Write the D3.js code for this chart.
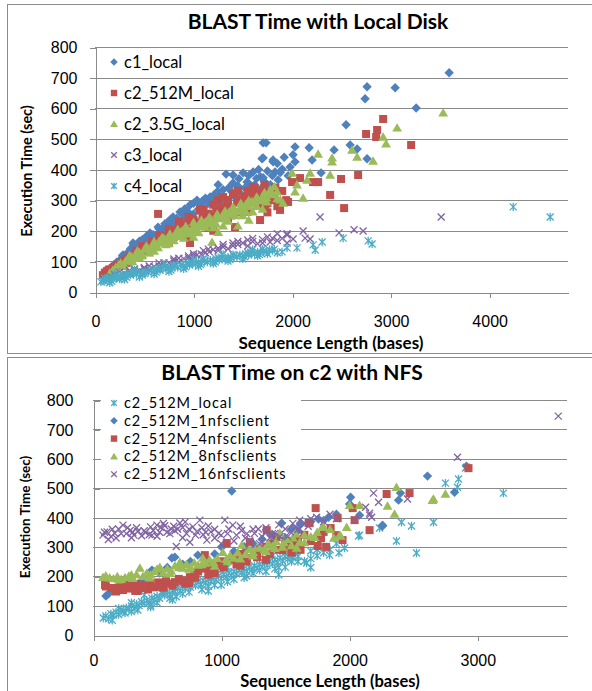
<!DOCTYPE html>
<html>
<head>
<meta charset="utf-8">
<script src="https://cdn.jsdelivr.net/npm/d3@7"></script>
<style>
  body { margin: 0; background: #fff; }
  svg { display: block; font-family: Lato, "Open Sans", sans-serif; }
  .grid line { stroke: #8a8a8a; stroke-width: 1; shape-rendering: crispEdges; }
  .axis path, .axis line { stroke: #8a8a8a; shape-rendering: crispEdges; }
  .axis text { fill: #000; font-size: 16px; }
</style>
</head>
<body>
<div class="container"></div>
<script>
const WIDTH = 592;
const HEIGHT = 691;

// ---- top chart: BLAST Time with Local Disk ----
var topTitle = 'BLAST Time with Local Disk';
var topNames = ['c1_local', 'c2_512M_local', 'c2_3.5G_local', 'c3_local', 'c4_local'];
var topXTicks = [0, 1000, 2000, 3000, 4000];
var yTicks = [0, 100, 200, 300, 400, 500, 600, 700, 800];

var c1Local = [[100,60],[130,72],[160,79],[190,88],[220,97],[250,104],[280,118],[300,111],[330,128],[360,141],
  [390,156],[420,149],[450,166],[480,171],[520,181],[558,193],[590,187],[640,212],[650,206],[680,205],[710,223],
  [740,229],[770,238],[792,245],[830,241],[863,261],[880,256],[910,271],[940,263],[964,284],[1000,290],[1035,300],
  [1060,286],[1090,297],[1120,306],[1168,310],[1180,302],[1210,318],[1239,327],[1270,311],[1300,334],[1330,385],
  [1360,341],[1401,382],[1401,356],[1450,346],[1503,389],[1543,359],[1570,351],[1604,392],[1640,371],[1680,376],
  [1706,373],[1695,435],[1706,487],[1736,487],[1706,438],[1807,425],[1807,431],[1827,392],[1858,366],[1900,401],
  [1980,408],[2010,448],[2030,474],[2030,425],[2173,471],[2203,431],[2294,389],[2426,464],[2548,546],[2589,480],
  [2660,467],[2741,631],[2761,670],[2761,435],[3046,667],[3259,601],[3594,716],[386,160],[284,121],[122,72],
  [1250,350],[1280,295],[1350,300],[1380,330],[1420,310],[1460,370],[1480,320],[1520,340],[1560,380],[1590,330],
  [1620,350],[1660,400],[1690,340],[1720,360],[1750,395],[1780,350],[1800,380],[1850,420],[1880,390],[1920,440],
  [1960,380],[1000,255],[1050,270],[900,240],[850,225],[700,195],[600,175],[500,165],[400,135],[300,100],[200,80],
  [1100,275],[1150,290],[1200,295],[1230,280],[750,215],[950,250],[550,170],[450,150],[350,125],[650,190],[800,222]];

var c2Local512 = [[80,55],[100,63],[120,68],[140,73],[170,70],[200,83],[230,89],[260,96],[290,101],[320,108],
  [350,116],[380,121],[410,118],[440,131],[470,137],[500,141],[530,151],[560,147],[600,161],[640,255],[660,171],
  [700,181],[730,177],[760,191],[790,201],[820,194],[850,211],[880,204],[910,221],[940,214],[970,226],[964,160],
  [1000,236],[1030,228],[1066,268],[1090,246],[1120,240],[1150,256],[1180,249],[1200,200],[1230,266],[1260,259],
  [1290,276],[1320,268],[1350,286],[1380,271],[1421,212],[1440,291],[1470,301],[1500,284],[1530,311],[1560,304],
  [1604,343],[1620,299],[1650,321],[1675,235],[1700,331],[1730,279],[1760,326],[1800,301],[1830,341],[1878,268],
  [1959,294],[2000,359],[2081,372],[2213,359],[2264,359],[2386,317],[2497,369],[2528,274],[2670,382],[2751,516],
  [2853,506],[2863,529],[2924,565],[3208,480],[150,58],[350,100],[550,130],[750,160],[950,185],[1150,210],[1350,240],
  [1550,262],[1750,290],[1100,270],[1200,285],[1250,300],[1300,310],[1350,300],[1400,320],[1450,330],[1480,260],
  [1520,280],[1550,330],[1580,290],[1620,340],[1660,310],[1700,280],[1720,350],[1780,300],[1820,320],[1850,280],
  [1000,210],[900,195],[800,180],[950,245],[850,230],[750,205],[650,185],[580,165],[480,150],[420,135],[380,110],
  [320,95],[250,85],[180,78],[1150,230],[1380,250],[1600,320],[1750,260],[1900,330],[1940,300]];

var c2Local35 = [[150,62],[180,71],[210,80],[240,89],[260,95],[290,91],[310,101],[340,108],[370,116],[400,110],
  [420,126],[450,130],[480,121],[500,139],[530,146],[560,140],[590,156],[620,150],[650,166],[680,160],[700,176],
  [730,169],[760,183],[790,178],[820,191],[850,184],[880,199],[910,192],[940,206],[970,199],[1000,213],[1030,205],
  [1060,221],[1090,214],[1120,229],[1150,222],[1180,236],[1210,229],[1240,246],[1270,240],[1300,253],[1330,247],
  [1360,261],[1390,255],[1420,269],[1450,262],[1480,279],[1500,270],[1530,286],[1560,280],[1590,296],[1620,289],
  [1650,306],[1680,299],[1710,316],[1740,309],[1770,326],[1800,318],[1848,327],[1880,301],[1909,291],[2000,389],
  [2030,327],[2050,350],[2112,307],[2152,366],[2183,389],[2264,451],[2386,382],[2406,425],[2406,438],[2609,464],
  [2660,441],[2822,428],[2924,506],[2954,484],[3066,536],[3533,585],[300,84],[450,112],[600,134],[750,158],
  [900,176],[1050,194],[1188,163],[1200,211],[1300,216],[1350,232],[1450,216],[1500,250],[1600,262],[1700,271],
  [350,120],[430,135],[520,150],[600,165],[680,178],[760,190],[840,205],[920,215],[1000,228],[1080,235],[1160,245],
  [1240,255],[1320,265],[1400,278],[1480,290],[1560,300],[1640,310],[1720,325],[1780,335],[1820,345],[380,100],
  [470,118],[550,128],[640,145],[720,155],[800,168],[880,182],[960,190],[1040,198],[1120,212],[1230,222],[1330,240],
  [1420,250],[1530,262],[1640,280],[1740,295],[1850,305],[1250,195],[1560,235],[1000,180]];

var c3Local = [[80,40],[120,46],[160,50],[200,56],[250,52],[300,61],[350,62],[400,69],[450,70],[500,76],[550,72],
  [600,83],[650,85],[700,89],[750,95],[800,101],[850,98],[900,109],[950,112],[1000,118],[1035,121],[1080,123],
  [1120,128],[1160,131],[1200,138],[1250,143],[1300,147],[1350,141],[1400,151],[1450,155],[1500,160],[1550,150],
  [1600,165],[1650,158],[1700,171],[1777,163],[1800,176],[1850,168],[1949,186],[1949,190],[1949,160],[2010,173],
  [2112,199],[2132,176],[2183,173],[2284,245],[2477,193],[2629,203],[2721,199],[3513,245],[250,65],[400,75],
  [550,85],[700,95],[850,110],[1000,125],[1150,140],[1300,155],[1450,165],[1600,175],[1700,160],[1750,180],
  [1550,170],[1400,160],[1250,135],[1100,135],[950,118],[800,108],[650,95],[500,80],[350,70],[1850,190],[1900,175]];

var c4Local = [[60,33],[80,38],[100,35],[120,42],[140,40],[160,46],[180,43],[200,49],[220,46],[240,51],[260,48],
  [280,54],[300,52],[330,57],[360,55],[390,61],[420,58],[450,64],[480,61],[510,67],[540,64],[570,71],[600,68],
  [630,74],[660,71],[690,78],[720,75],[750,81],[780,78],[810,84],[840,81],[870,88],[900,85],[930,91],[960,88],
  [990,94],[1020,91],[1050,98],[1080,95],[1110,101],[1140,98],[1170,104],[1200,101],[1230,108],[1260,105],
  [1290,111],[1320,108],[1350,114],[1380,111],[1410,118],[1440,115],[1470,121],[1500,118],[1530,124],[1560,121],
  [1590,128],[1620,125],[1650,131],[1680,128],[1710,134],[1740,131],[1770,138],[1800,135],[1898,131],[1949,144],
  [2050,144],[2213,154],[2234,137],[2305,163],[2518,176],[2772,167],[2812,157],[4244,278],[4619,245],
  [150,30],[300,41],[450,49],[600,59],[750,67],[900,76],[1050,84],[1200,93],[1350,101],[1500,108],[1650,118],
  [200,60],[400,72],[700,91],[1000,106],[1300,123],[1600,139],[100,45],[250,42],[350,60],[500,60],[650,78],
  [800,88],[950,95],[1100,108],[1250,112],[1400,122],[1550,128],[1700,140],[1750,125],[170,35],[320,48],[480,55],
  [620,65],[770,72],[920,82],[1070,90],[1220,98],[1370,106],[1520,115],[1670,122],[1820,140],[1850,128]];

// ---- bottom chart: BLAST Time on c2 with NFS ----
var botTitle = 'BLAST Time on c2 with NFS';
var botNames = ['c2_512M_local', 'c2_512M_1nfsclient', 'c2_512M_4nfsclients', 'c2_512M_8nfsclients', 'c2_512M_16nfsclients'];
var botXTicks = [0, 1000, 2000, 3000];

var nfsLocal = [[80,58],[100,65],[120,55],[140,72],[160,68],[180,78],[200,70],[220,86],[240,80],[260,92],[280,88],
  [300,99],[320,90],[340,106],[360,100],[380,113],[400,108],[420,118],[440,111],[460,126],[480,120],[500,132],
  [520,125],[540,141],[560,135],[580,146],[600,138],[620,152],[640,148],[660,159],[680,150],[700,166],[720,158],
  [740,171],[760,162],[780,176],[800,168],[820,181],[840,172],[860,186],[880,178],[900,191],[920,182],[940,196],
  [960,188],[980,201],[1000,192],[1020,206],[1040,198],[1060,211],[1080,202],[1100,216],[1120,208],[1140,221],
  [1160,212],[1180,226],[1200,218],[1220,231],[1240,222],[1260,236],[1280,228],[1300,241],[1320,232],[1340,246],
  [1360,238],[1380,251],[1400,242],[1420,256],[1440,248],[1460,263],[1480,252],[1500,268],[1520,258],[1540,273],
  [1560,262],[1580,279],[1600,268],[1668,245],[1700,286],[1750,291],[1800,301],[1847,272],[1900,311],[1964,296],
  [2073,337],[2081,340],[2237,364],[2369,320],[2408,384],[2486,371],[2525,279],[2658,384],[2751,517],[2845,503],
  [2853,531],[2907,568],[2915,571],[3203,483],[150,50],[300,80],[450,101],[600,125],[750,146],[900,166],[1050,181],
  [1200,201],[1350,216],[1500,231],[1450,205],[1650,251],[400,136],[700,181],[1000,221],[1300,261],[1600,291],[1750,270],
  [200,90],[300,110],[350,85],[500,110],[550,150],[650,130],[700,140],[800,190],[850,155],[950,170],[1000,170],
  [1050,230],[1100,190],[1150,240],[1250,210],[1300,220],[1400,270],[1450,230],[1550,250],[1600,250],[1700,260],
  [1800,280],[1850,290],[1920,280],[1700,230],[1550,290],[250,75],[450,95],[620,120],[900,150],[1180,195],[1420,225]];

var nfs1 = [[101,133],[120,140],[150,151],[200,160],[260,171],[320,175],[380,186],[460,221],[520,211],[580,230],
  [616,262],[639,265],[700,241],[760,250],[818,272],[880,261],[950,276],[1005,299],[1083,490],[1100,285],[1180,301],
  [1250,311],[1320,326],[1400,341],[1473,381],[1550,361],[1620,376],[1700,386],[1760,395],[1839,401],[1900,411],
  [2003,446],[2011,469],[2081,408],[2260,371],[2260,374],[2385,459],[2400,483],[2611,541],[2822,486],[2915,575],
  [250,180],[400,190],[900,250],[1200,290],[1500,330],[1600,355],[1800,390]];

var nfs4 = [[94,170],[101,165],[210,170],[234,153],[260,166],[290,158],[312,163],[340,173],[370,160],[400,168],
  [421,170],[450,176],[480,162],[510,179],[538,170],[570,183],[600,175],[639,180],[670,191],[700,185],[756,197],
  [790,206],[820,216],[850,226],[873,272],[889,231],[920,241],[960,235],[1000,251],[1044,313],[1070,256],[1100,266],
  [1140,260],[1170,276],[1200,262],[1224,316],[1260,281],[1300,291],[1330,301],[1356,357],[1400,311],[1434,333],
  [1481,289],[1520,301],[1560,321],[1600,326],[1650,341],[1683,381],[1691,381],[1738,432],[1754,303],[1800,351],
  [1855,364],[1910,398],[1948,323],[2027,432],[2042,391],[2159,357],[2292,480],[2471,483],[2931,568],
  [150,160],[350,150],[550,161],[750,176],[950,211],[1150,236],[1350,256],[1550,281],[180,148],[280,180],[330,150],
  [430,155],[520,165],[620,168],[720,175],[800,195],[900,205],[1020,230],[1120,240],[1200,250],[1280,265],[1380,275],
  [1450,290],[1500,310],[1580,300],[1620,290],[1700,320],[1780,330],[1820,300],[1900,340]];

var nfs8 = [[78,197],[100,202],[130,195],[160,192],[190,199],[220,190],[250,196],[280,201],[310,193],[340,206],
  [366,228],[390,200],[420,211],[450,205],[480,216],[522,231],[550,212],[580,226],[610,218],[640,236],[678,248],
  [700,228],[730,241],[760,232],[790,246],[820,238],[857,262],[880,245],[910,256],[940,248],[970,261],[1013,282],
  [1040,258],[1070,271],[1100,262],[1130,281],[1161,306],[1190,275],[1220,291],[1250,282],[1278,296],[1310,301],
  [1340,292],[1370,311],[1400,302],[1430,319],[1458,347],[1490,315],[1520,326],[1560,331],[1590,296],[1613,316],
  [1650,341],[1700,335],[1730,333],[1793,371],[1800,367],[1925,340],[1933,337],[1980,367],[2003,442],[2081,442],
  [2299,439],[2354,412],[2369,503],[2650,459],[2658,463],[2751,480],[200,188],[300,205],[440,195],[500,225],
  [600,210],[670,230],[750,225],[850,240],[950,235],[1050,250],[1150,260],[1250,270],[1350,285],[1420,295],
  [1480,300],[1550,305],[1650,315],[1750,350],[1850,360],[1880,330],[1580,345]];

var nfs16 = [[78,340],[110,351],[140,335],[170,346],[200,361],[234,374],[260,345],[290,356],[320,340],[350,353],
  [380,338],[410,349],[440,342],[470,356],[499,374],[530,366],[560,372],[577,350],[610,361],[640,355],[678,381],
  [700,366],[730,345],[756,316],[780,368],[810,352],[834,391],[860,341],[889,323],[920,351],[950,330],[980,346],
  [1029,391],[1060,361],[1091,374],[1120,340],[1160,356],[1190,330],[1224,323],[1260,346],[1290,361],[1320,335],
  [1350,349],[1380,330],[1420,346],[1460,335],[1500,361],[1540,351],[1580,366],[1613,391],[1650,381],[1700,396],
  [1746,401],[1800,386],[1850,411],[1900,396],[2042,391],[2128,435],[2159,408],[2159,415],[2175,401],[2190,483],
  [2229,452],[2455,463],[2845,605],[3632,745],[120,325],[300,331],[450,368],[500,336],[650,301],[700,331],
  [900,371],[1000,311],[1100,320],[1300,311],[90,350],[150,360],[180,330],[220,345],[270,365],[310,350],[340,365],
  [400,355],[460,340],[520,350],[550,380],[600,345],[630,370],[660,360],[720,385],[750,360],[800,340],[850,365],
  [880,350],[950,360],[1000,340],[1050,345],[1150,370],[1200,345],[1250,360],[1350,365],[1400,345],[1450,375],
  [1520,335],[1560,380],[1600,360],[1680,370]];

// ---- marker shapes ----
var BLUE = '#4f81bd', RED = '#c0504d', GREEN = '#9bbb59', PURPLE = '#8064a2', CYAN = '#4bacc6';

var markerPath = function (kind, s) {
    if (kind === 'diamond') return 'M0,' + (-s) + 'L' + s + ',0L0,' + s + 'L' + (-s) + ',0Z';
    if (kind === 'square') return 'M' + (-s) + ',' + (-s) + 'h' + (2 * s) + 'v' + (2 * s) + 'h' + (-2 * s) + 'Z';
    if (kind === 'triangle') return 'M0,' + (-s) + 'L' + (s * 1.05) + ',' + (s * 0.8) + 'L' + (-s * 1.05) + ',' + (s * 0.8) + 'Z';
    if (kind === 'x') return 'M' + (-s) + ',' + (-s) + 'L' + s + ',' + s + 'M' + (-s) + ',' + s + 'L' + s + ',' + (-s);
    // star: x with a vertical bar
    return 'M' + (-s) + ',' + (-s) + 'L' + s + ',' + s + 'M' + (-s) + ',' + s + 'L' + s + ',' + (-s) +
        'M0,' + (-s * 1.2) + 'L0,' + (s * 1.2);
};

var drawMarker = function (sel, kind, color, s) {
    var stroked = kind === 'x' || kind === 'star';
    sel.append('path')
        .attr('d', markerPath(kind, s))
        .attr('fill', stroked ? 'none' : color)
        .attr('stroke', stroked ? color : 'none')
        .attr('stroke-width', stroked ? 1.3 : 0);
};

var markerSize = {diamond: 4.7, square: 4, triangle: 4.7, x: 3.5, star: 3.5};

var _svg;

var createSvg = function () {
    _svg = d3.select('.container').append('svg').attr('width', WIDTH).attr('height', HEIGHT);
};

var drawChart = function (c) {
    var g = _svg.append('g');

    g.append('rect')
        .attr('x', c.frame[0] + 0.5).attr('y', c.frame[1] + 0.5)
        .attr('width', c.frame[2]).attr('height', c.frame[3])
        .attr('fill', '#fff').attr('stroke', '#8c8c8c');

    var x = d3.scaleLinear().domain(c.xDomain).range([c.left, c.right]);
    var y = d3.scaleLinear().domain([0, 800]).range([c.bottom, c.top]);

    g.append('g').attr('class', 'grid')
        .selectAll('line')
        .data(yTicks.slice(1))
        .enter().append('line')
        .attr('x1', c.left).attr('x2', c.right)
        .attr('y1', function (d) { return Math.round(y(d)) + 0.5; })
        .attr('y2', function (d) { return Math.round(y(d)) + 0.5; });

    var yAxis = d3.axisLeft(y).tickValues(yTicks).tickSize(c.yTickSize).tickSizeOuter(0).tickPadding(c.yPad);
    var yg = g.append('g').attr('class', 'axis')
        .attr('transform', 'translate(' + (c.left + 0.5) + ',0.5)')
        .call(yAxis);
    if (c.crossTicks) yg.selectAll('.tick line').attr('x2', 6);

    var xAxis = d3.axisBottom(x).tickValues(c.xTicks).tickFormat(d3.format('d'))
        .tickSize(5).tickSizeOuter(0).tickPadding(c.xPad);
    g.append('g').attr('class', 'axis')
        .attr('transform', 'translate(0.5,' + (c.bottom + 0.5) + ')')
        .call(xAxis);

    g.append('text')
        .attr('x', c.titleX).attr('y', c.titleY)
        .attr('text-anchor', 'middle').attr('font-weight', 'bold').attr('font-size', 21)
        .text(c.title);

    g.append('text')
        .attr('x', c.xTitleX).attr('y', c.xTitleY)
        .attr('text-anchor', 'middle').attr('font-weight', 'bold').attr('font-size', c.xTitleSize)
        .text('Sequence Length (bases)');

    g.append('text')
        .attr('transform', 'translate(' + c.yTitleX + ',' + c.yTitleY + ') rotate(-90)')
        .attr('text-anchor', 'middle').attr('font-weight', 'bold').attr('font-size', c.yTitleSize)
        .text('Execution Time (sec)');

    // legend
    var lg = g.append('g');
    if (c.legendBox) {
        lg.append('rect')
            .attr('x', c.legendBox[0]).attr('y', c.legendBox[1])
            .attr('width', c.legendBox[2]).attr('height', c.legendBox[3])
            .attr('fill', '#fff');
    }
    c.series.forEach(function (s, i) {
        var row = lg.append('g')
            .attr('transform', 'translate(' + c.legendX + ',' + (c.legendY + i * c.legendStep) + ')');
        drawMarker(row, s.kind, s.color, markerSize[s.kind] * 0.8);
        row.append('text')
            .attr('x', 10).attr('dy', '0.35em')
            .attr('font-size', c.legendFont)
            .attr('letter-spacing', c.legendSpacing)
            .text(s.name);
    });

    // points
    c.series.forEach(function (s) {
        g.append('g')
            .selectAll('g')
            .data(s.values)
            .enter().append('g')
            .attr('transform', function (d) { return 'translate(' + x(d[0]) + ',' + y(d[1]) + ')'; })
            .each(function () { drawMarker(d3.select(this), s.kind, s.color, markerSize[s.kind]); });
    });
};

window.onload = function () {
    createSvg();
    drawChart({
        frame: [7, 4, 600, 349],
        left: 95, right: 568, top: 47, bottom: 292,
        xDomain: [0, 4800], xTicks: topXTicks,
        yTickSize: 6, yPad: 12, xPad: 18, crossTicks: false,
        title: topTitle, titleX: 318, titleY: 29,
        xTitleX: 331, xTitleY: 349, xTitleSize: 17,
        yTitleX: 32, yTitleY: 171, yTitleSize: 14.5,
        legendX: 114, legendY: 62, legendStep: 31, legendBox: null,
        legendFont: 16.5, legendSpacing: 0,
        series: [
            {name: topNames[0], values: c1Local, kind: 'diamond', color: BLUE},
            {name: topNames[1], values: c2Local512, kind: 'square', color: RED},
            {name: topNames[2], values: c2Local35, kind: 'triangle', color: GREEN},
            {name: topNames[3], values: c3Local, kind: 'x', color: PURPLE},
            {name: topNames[4], values: c4Local, kind: 'star', color: CYAN}
        ]
    });
    drawChart({
        frame: [7, 357, 600, 360],
        left: 93, right: 567, top: 400, bottom: 635,
        xDomain: [0, 3700], xTicks: botXTicks,
        yTickSize: 6, yPad: 14, xPad: 14, crossTicks: true,
        title: botTitle, titleX: 292, titleY: 380,
        xTitleX: 330, xTitleY: 687, xTitleSize: 16.5,
        yTitleX: 30, yTitleY: 517, yTitleSize: 13.5,
        legendX: 114, legendY: 403, legendStep: 17.8, legendBox: [101, 393, 200, 92],
        legendFont: 14.5, legendSpacing: 0.9,
        series: [
            {name: botNames[0], values: nfsLocal, kind: 'star', color: CYAN},
            {name: botNames[1], values: nfs1, kind: 'diamond', color: BLUE},
            {name: botNames[2], values: nfs4, kind: 'square', color: RED},
            {name: botNames[3], values: nfs8, kind: 'triangle', color: GREEN},
            {name: botNames[4], values: nfs16, kind: 'x', color: PURPLE}
        ]
    });
};
</script>
</body>
</html>
